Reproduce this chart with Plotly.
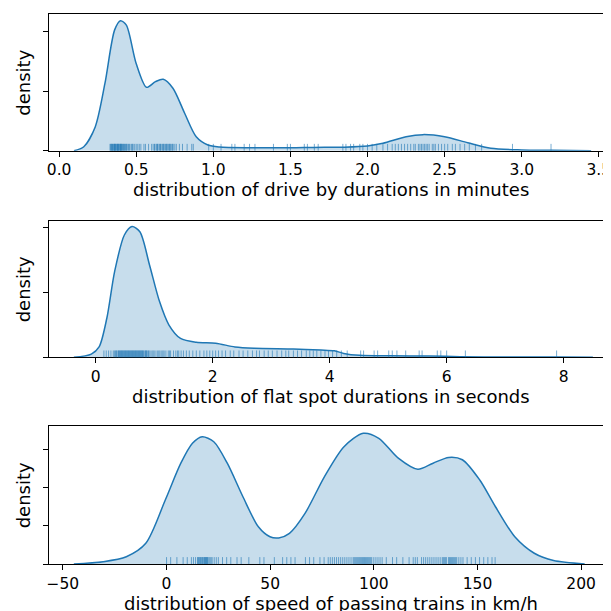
import plotly.graph_objects as go

# KDE curves (x value, density)
drive_x = [0.096, 0.16, 0.234, 0.297, 0.36, 0.398, 0.436, 0.499, 0.567, 0.625, 0.675, 0.738, 0.814,
           0.889, 0.965, 1.04, 1.25, 1.5, 1.65, 1.85, 2.0, 2.1, 2.25, 2.36, 2.5, 2.65, 2.8, 3.0, 3.2, 3.45]
drive_d = [0.0, 0.067, 0.40, 1.13, 2.03, 2.185, 2.11, 1.47, 1.065, 1.16, 1.20, 1.05, 0.63,
           0.235, 0.096, 0.062, 0.05, 0.048, 0.055, 0.06, 0.079, 0.124, 0.235, 0.27, 0.235, 0.134, 0.04, 0.012, 0.006, 0.0]

flat_x = [-0.373, -0.075, 0.058, 0.19, 0.324, 0.49, 0.62, 0.755, 0.92, 1.09, 1.25, 1.45, 1.72, 2.05,
          2.38, 2.71, 3.38, 3.85, 4.08, 4.24, 4.51, 5.04, 5.7, 6.23, 7.0, 7.9, 8.5]
flat_d = [0.0, 0.025, 0.08, 0.30, 0.66, 0.94, 1.005, 0.965, 0.71, 0.43, 0.25, 0.145, 0.115, 0.108,
          0.08, 0.07, 0.064, 0.056, 0.05, 0.03, 0.015, 0.011, 0.01, 0.005, 0.0015, 0.003, 0.0]

speed_x = [-44.7, -30.6, -19.4, -10, -0.6, 6.9, 12.5, 17.2, 22.8, 29.3, 36.8, 44.3, 49.9, 54.1, 59.3,
           66.8, 76.2, 85.6, 94.9, 102.4, 111.8, 121.2, 128.6, 136.1, 142.7, 151.1, 158.6, 168, 177.4,
           186.7, 201.7]
speed_d = [0.0, 0.00012, 0.00038, 0.00108, 0.00334, 0.00526, 0.0063, 0.00664, 0.00638, 0.00526,
           0.00352, 0.00194, 0.00142, 0.00136, 0.0016, 0.00264, 0.00456, 0.00612, 0.00682, 0.00656,
           0.00552, 0.00494, 0.00526, 0.00556, 0.00544, 0.00438, 0.003, 0.00142, 0.00056, 0.00018, 0.0]

# rug positions
drive_rug = [0.33, 0.335, 0.34, 0.345, 0.35, 0.355, 0.36, 0.365, 0.37, 0.375, 0.38, 0.385, 0.39, 0.395,
             0.40, 0.405, 0.41, 0.415, 0.42, 0.43, 0.44, 0.45, 0.46, 0.47, 0.48, 0.49, 0.50, 0.51, 0.52,
             0.53, 0.55, 0.56, 0.58, 0.60, 0.61, 0.62, 0.63, 0.64, 0.65, 0.66, 0.67, 0.68, 0.69, 0.70,
             0.71, 0.72, 0.73, 0.74, 0.75, 0.76, 0.78, 0.80, 0.36, 0.38, 0.40, 0.42, 0.44, 0.64, 0.66,
             0.68, 0.70, 0.72, 0.83, 0.86, 0.87, 0.97, 1.0, 1.05, 1.12, 1.14, 1.2, 1.235, 1.27, 1.39,
             1.48, 1.5, 1.59, 1.61, 1.655, 1.68, 1.84, 1.86, 1.89, 1.91, 1.95, 1.97, 2.0, 2.03, 2.06,
             2.1, 2.13, 2.16, 2.18, 2.2, 2.22, 2.24, 2.26, 2.28, 2.3, 2.31, 2.33, 2.35, 2.36, 2.38, 2.4,
             2.42, 2.44, 2.46, 2.48, 2.5, 2.52, 2.55, 2.57, 2.6, 2.63, 2.66, 2.7, 2.74, 2.94, 3.19,
             0.337, 0.347, 0.357, 0.367, 0.377, 0.387, 0.397, 0.407, 0.425, 0.435, 0.455, 0.475,
             0.62, 0.635, 0.655, 0.675, 0.695, 0.715, 0.735, 2.34, 2.37, 2.39, 2.43]

flat_rug = [0.14, 0.18, 0.22, 0.26, 0.3, 0.32, 0.34, 0.36, 0.38, 0.4, 0.42, 0.44, 0.46, 0.48, 0.5, 0.52,
            0.54, 0.56, 0.58, 0.6, 0.62, 0.64, 0.66, 0.68, 0.7, 0.72, 0.74, 0.76, 0.78, 0.8, 0.82, 0.84,
            0.86, 0.88, 0.9, 0.93, 0.96, 1.0, 1.03, 1.06, 1.1, 1.13, 1.17, 1.2, 1.24, 1.28, 1.33, 1.37,
            1.42, 1.46, 1.5, 1.55, 1.6, 1.66, 1.72, 1.78, 1.85, 1.9, 1.95, 2.0, 2.05, 2.1, 2.16, 2.22,
            2.3, 2.36, 2.45, 2.52, 2.6, 2.68, 2.75, 2.8, 2.88, 2.95, 3.02, 3.1, 3.18, 3.25, 3.3, 3.38,
            3.45, 3.52, 3.6, 3.66, 3.72, 3.78, 3.85, 3.92, 3.98, 4.05, 4.12, 4.2, 4.3, 4.53, 4.58, 4.76,
            4.82, 5.01, 5.07, 5.15, 5.3, 5.53, 5.58, 5.84, 5.9, 6.0, 6.32, 7.88,
            0.41, 0.45, 0.49, 0.53, 0.57, 0.61, 0.65, 0.69, 0.73, 0.77, 0.81, 0.85,
            0.35, 0.39, 0.43, 0.47, 0.51, 0.55, 0.59, 0.63, 0.67, 0.71, 0.75, 0.79, 0.87, 0.91,
            0.98, 1.08, 1.15, 1.26, 1.4]

speed_rug = [0, 2, 5, 8, 10, 12, 13, 14, 15, 16, 17, 17.5, 18, 18.5, 19, 19.5, 20, 21, 22, 23, 24, 25,
             27, 29, 31, 34, 36, 39.7, 45, 47, 52, 56, 58, 60, 62, 67, 69, 71, 74, 76, 78, 79, 80, 81,
             82, 83, 84, 85, 86, 87, 88, 89, 90, 91, 92, 93, 94, 95, 96, 97, 98, 99, 100, 101, 102,
             103, 104, 106, 109, 111, 114, 117, 119, 120, 121, 123, 124, 125, 126, 127, 128, 129, 130,
             131, 132, 133, 134, 135, 136, 137, 138, 139, 140, 141, 142, 143, 145, 147, 149, 151, 153,
             155, 157, 158.5, 15.5, 16.5, 18.2, 19.2, 20.5, 91.5, 93.5, 95.5, 97.5, 133.5, 136.5, 139.5,
             15.2, 16.2, 17.2, 18.7, 19.7, 21.5, 90.5, 92.5, 94.5, 96.5, 98.5, 134.5, 137.5, 138.5]

LINE = '#1f77b4'
FILL = 'rgba(31,119,180,0.25)'
RUG = 'rgba(31,119,180,0.6)'
FONT = 'DejaVu Sans'

# the page body adds an 8 px margin, so the figure is 603 px and offsets are shifted by 8
OFF = 8
W = 611 - OFF


def px_x(p):
    return (p - OFF) / W


def px_y(p):
    return 1 - (p - OFF) / W


fig = go.Figure()


def add_panel(n, xs, ds, rug, xrange, xdtick, xfmt, ymax, ydtick, top, bottom, title, title_y):
    xa = 'x' if n == 1 else f'x{n}'
    ya = 'y' if n == 1 else f'y{n}'
    ydomain = [px_y(bottom), px_y(top)]
    fig.add_trace(go.Scatter(
        x=xs, y=ds, xaxis=xa, yaxis=ya, mode='lines',
        line=dict(color=LINE, width=1.5, shape='spline', smoothing=0.8),
        fill='tozeroy', fillcolor=FILL, showlegend=False, hoverinfo='skip'
    ))
    for v in rug:
        fig.add_shape(type='line', xref=xa, yref=f'{ya} domain', x0=v, x1=v, y0=0, y1=0.05,
                      line=dict(color=RUG, width=1))
    key = '' if n == 1 else str(n)
    fig.update_layout(**{
        f'xaxis{key}': dict(
            domain=[px_x(46.7), 1], anchor=ya, range=xrange, dtick=xdtick, tick0=0, tickformat=xfmt,
            showline=True, linecolor='black', linewidth=1, mirror=True, ticks='outside', ticklen=5,
            tickwidth=1, tickcolor='black', showgrid=False, zeroline=False, ticklabeloverflow='allow',
            tickfont=dict(family=FONT, size=15.5, color='black')
        ),
        f'yaxis{key}': dict(
            domain=ydomain, anchor=xa, range=[0, ymax], dtick=ydtick, tick0=0,
            showline=True, linecolor='black', linewidth=1, ticks='outside', ticklen=5, tickwidth=1,
            tickcolor='black', showticklabels=False, showgrid=False, zeroline=False
        ),
    })
    fig.add_annotation(text=title, xref='paper', yref='paper', x=px_x(330), y=px_y(title_y),
                       showarrow=False, font=dict(family=FONT, size=18, color='black'),
                       xanchor='center', yanchor='middle')
    fig.add_annotation(text='density', xref='paper', yref='paper', x=px_x(21.4),
                       y=(ydomain[0] + ydomain[1]) / 2, textangle=-90, showarrow=False,
                       font=dict(family=FONT, size=18, color='black'), xanchor='center', yanchor='middle')


add_panel(1, drive_x, drive_d, drive_rug, [-0.0685, 3.579], 0.5, '.1f', 2.297, 1,
          14, 150.7, 'distribution of drive by durations in minutes', 190)
add_panel(2, flat_x, flat_d, flat_rug, [-0.806, 8.81], 2, 'd', 1.05, 0.5,
          220.7, 357.3, 'distribution of flat spot durations in seconds', 397)
add_panel(3, speed_x, speed_d, speed_rug, [-56.9, 214.4], 50, 'd', 0.0072, 0.002,
          426, 564, 'distribution of speed of passing trains in km/h', 603)

fig.update_layout(
    width=W, height=W,
    margin=dict(l=0, r=0, t=0, b=0),
    plot_bgcolor='white',
    paper_bgcolor='white',
    font=dict(family=FONT, color='black'),
)

fig.write_html("out.html")
